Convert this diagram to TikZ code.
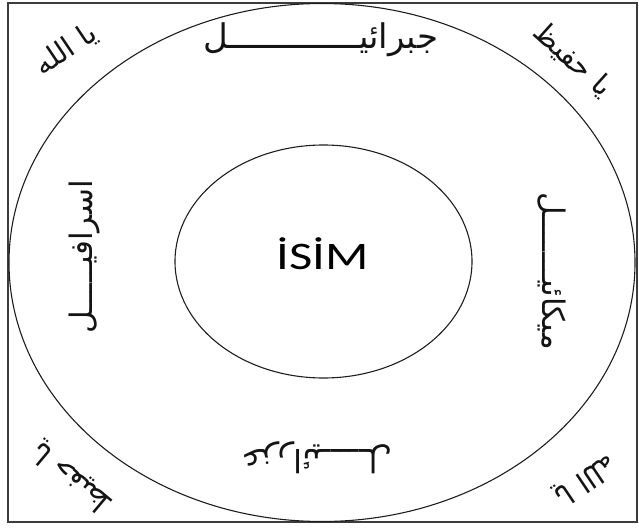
\documentclass[tikz,border=0pt]{standalone}
\usepackage{fontspec}
\usepackage{tikz}
\usetikzlibrary{positioning}
\TeXXeTstate=1
\newfontfamily\arabicfont[Script=Arabic]{DejaVu Sans}
\newfontfamily\isimfont{Carlito}
\definecolor{ringGray}{RGB}{30,30,30}
\definecolor{frameGray}{RGB}{60,60,60}
\definecolor{inkGray}{RGB}{20,20,20}

\begin{document}
\begin{tikzpicture}[x=1pt, y=-1pt,
  arab/.style={font=\arabicfont\fontsize{#1}{#1}\selectfont, inner sep=0pt, text=inkGray}]
  \useasboundingbox (0,0) rectangle (639,529);

  % Frame and rings
  \draw[frameGray, line width=1.8pt] (8,3) rectangle (637,522);
  \draw[ringGray, line width=1.1pt] (322,262.5) ellipse [x radius=313, y radius=259];
  \node[font=\isimfont\fontsize{39}{39}\selectfont, xscale=1.3, inner sep=0pt] (isim) at (323,254) {İSİM};
  \draw[ringGray, line width=1.1pt] (323.5,261.5) ellipse [x radius=148.5, y radius=116.5];

  % Angels
  \node[arab=34] (cebrail) at (321,40) {\beginR جبرائيـــــــــــــل\endR};
  \node[arab=31, rotate=90] (israfil) at (85,257) {\beginR اسرافيـــــل\endR};
  \node[arab=31, rotate=-90] (mikail) at (552,271) {\beginR ميكائيـــــــل\endR};
  \node[arab=32, rotate=180] (azrail) at (317,458) {\beginR عزرائيـــــل\endR};

  % Corners
  \node[arab=29, rotate=34] (allahTL) at (66,50) {\beginR يا الله\endR};
  \node[arab=29, rotate=-42] (hafizTR) at (573,60) {\beginR يا حفيظ\endR};
  \node[arab=29, rotate=140] (hafizBL) at (72,478) {\beginR يا حفيظ\endR};
  \node[arab=29, rotate=-146] (allahBR) at (585,480) {\beginR يا الله\endR};
\end{tikzpicture}
\end{document}
